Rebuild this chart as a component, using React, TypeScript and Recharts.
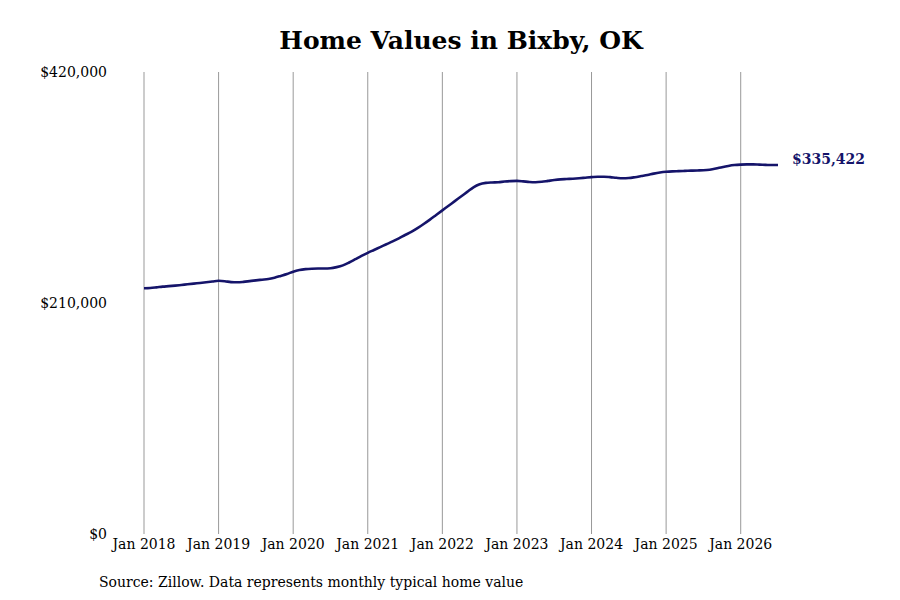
import { LineChart, Line, XAxis, YAxis, ReferenceLine } from 'recharts';

// monthly typical home value, Jan 2018 .. Jul 2026
const years = [2018, 2019, 2020, 2021, 2022, 2023, 2024, 2025, 2026];

const values2018 = [223.4, 223.6, 224.2, 224.9, 225.3, 225.8, 226.4, 227.0, 227.6, 228.2, 228.8, 229.5];
const values2019 = [230.2, 229.8, 229.0, 228.8, 229.2, 229.9, 230.6, 231.2, 231.8, 233.0, 234.6, 236.3];
const values2020 = [238.5, 240.0, 240.8, 241.2, 241.4, 241.4, 241.6, 242.6, 244.2, 246.8, 249.8, 252.8];
const values2021 = [255.6, 258.2, 260.8, 263.4, 266.0, 268.8, 271.8, 274.6, 278.0, 281.8, 285.8, 290.0];
const values2022 = [294.2, 298.4, 302.6, 306.8, 311.0, 315.2, 318.0, 319.2, 319.6, 319.8, 320.4, 320.8];
const values2023 = [321.0, 320.6, 320.0, 319.8, 320.2, 321.0, 321.8, 322.4, 322.7, 323.0, 323.4, 323.9];
const values2024 = [324.4, 324.8, 324.8, 324.4, 323.8, 323.4, 323.6, 324.4, 325.4, 326.4, 327.6, 328.6];
const values2025 = [329.3, 329.7, 329.9, 330.1, 330.3, 330.5, 330.7, 331.2, 332.2, 333.5, 334.6, 335.4];
const values2026 = [335.8, 336.0, 336.0, 335.8, 335.6, 335.4, 335.422];

const yTicks = [0, 210000, 420000];
const title = 'Home Values in Bixby, OK';
const source = 'Source: Zillow. Data represents monthly typical home value';

const allValues = [
  ...values2018, ...values2019, ...values2020, ...values2021, ...values2022,
  ...values2023, ...values2024, ...values2025, ...values2026,
];
const data = allValues.map((v, i) => ({ month: i, value: Math.round(v * 1000) }));
const xTicks = years.map((_, i) => i * 12);

const FONT = '"DejaVu Serif", serif';
const NAVY = '#15146a';

const money = (v: number) => '$' + v.toLocaleString('en-US');

function EndLabel(props: any) {
  const { x, y, index, value } = props;
  if (index !== data.length - 1) return null;
  return (
    <text x={x + 14} y={y - 6} dy="0.35em" fill={NAVY} fontFamily={FONT} fontSize={14} fontWeight="bold">
      {money(value)}
    </text>
  );
}

export default function App() {
  return (
    <div style={{ position: 'absolute', left: 0, top: 0, width: 900, height: 600, background: '#fff', fontFamily: FONT }}>
      <div style={{ position: 'absolute', left: 0, top: 26, width: 922, textAlign: 'center', fontSize: 25, fontWeight: 'bold', color: '#000' }}>
        {title}
      </div>
      <LineChart
        width={900}
        height={600}
        data={data}
        margin={{ top: 72, right: 122, left: 44, bottom: 36 }}
      >
        {xTicks.map((t) => (
          <ReferenceLine key={t} x={t} stroke="#999" strokeWidth={1} />
        ))}
        <XAxis
          dataKey="month"
          type="number"
          domain={[0, data.length - 1]}
          ticks={xTicks}
          tickFormatter={(m: number) => 'Jan ' + years[m / 12]}
          axisLine={false}
          tickLine={false}
          tickSize={0}
          tickMargin={5}
          height={30}
          interval={0}
          tick={{ fill: '#000', fontSize: 14, fontFamily: FONT }}
        />
        <YAxis
          domain={[0, 420000]}
          ticks={yTicks}
          tickFormatter={money}
          axisLine={false}
          tickLine={false}
          tickSize={0}
          tickMargin={37}
          width={100}
          tick={{ fill: '#000', fontSize: 14, fontFamily: FONT }}
        />
        <Line
          type="monotone"
          dataKey="value"
          stroke={NAVY}
          strokeWidth={2.6}
          dot={false}
          label={<EndLabel />}
          isAnimationActive={false}
        />
      </LineChart>
      <div style={{ position: 'absolute', left: 99, top: 574, fontSize: 14, color: '#000' }}>
        {source}
      </div>
    </div>
  );
}
